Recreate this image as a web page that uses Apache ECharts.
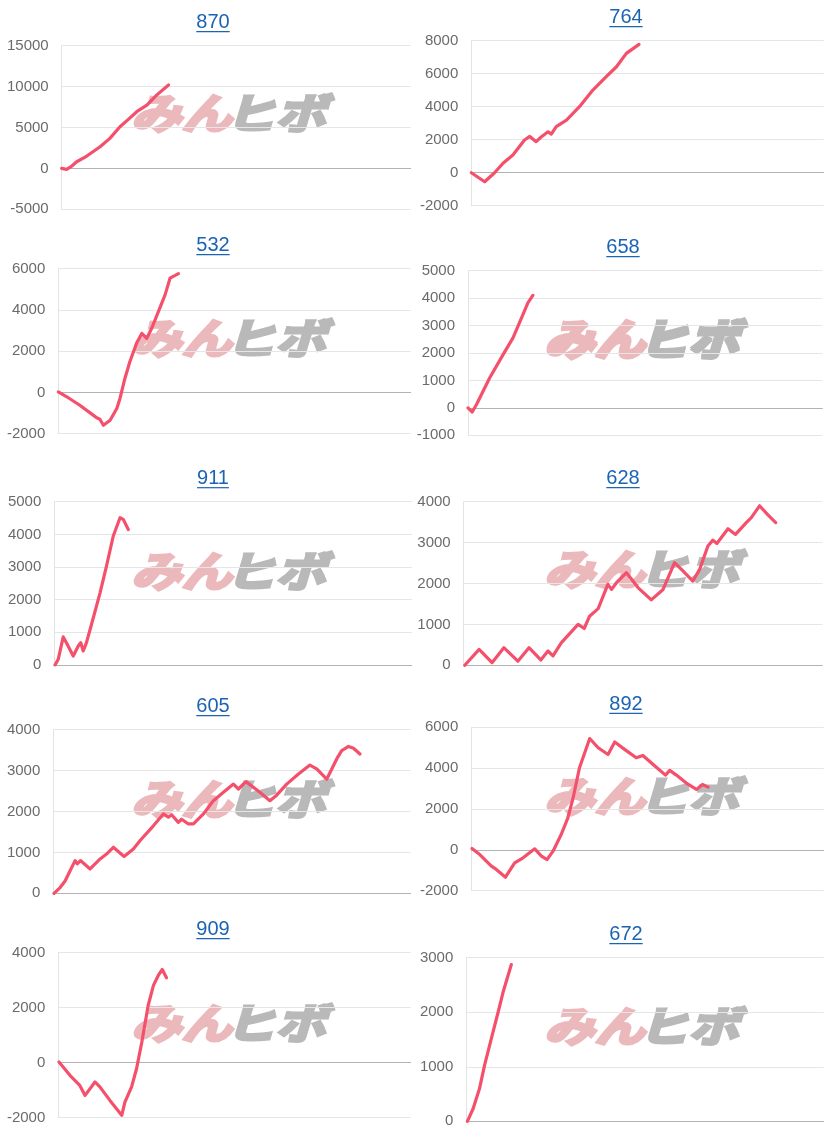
<!DOCTYPE html>
<html>
<head>
<meta charset="utf-8">
<script src="https://cdn.jsdelivr.net/npm/echarts@6/dist/echarts.min.js"></script>
<style>
html,body{margin:0;padding:0;background:#fff;}
#c{width:826px;height:1140px;}
</style>
</head>
<body>
<div id="c"></div>
<script>
// ---------- DATA ----------
const titles = ['870', '764', '532', '658', '911', '628', '605', '892', '909', '672'];
const yMins = [-5000, -2000, -2000, -1000, 0, 0, 0, -2000, -2000, 0];
const yMaxs = [15000, 8000, 6000, 5000, 5000, 4000, 4000, 6000, 4000, 3000];
const yIntervals = [5000, 2000, 2000, 1000, 1000, 1000, 1000, 2000, 2000, 1000];

// [x position on period axis (0-100), cumulative value]
const s870 = [[0,0],[1.4,-120],[2.9,285],[4.3,815],[7.2,1510],[11.0,2650],[13.8,3670],[16.7,5090],[19.1,5990],[21.5,6930],[24.4,7740],[27.2,8960],[30.6,10190]];
const s764 = [[0,0],[3.8,-550],[6.6,0],[9.0,570],[11.8,1070],[15.1,1980],[16.6,2200],[18.4,1880],[19.9,2180],[21.8,2480],[22.7,2340],[24.1,2790],[27.0,3190],[30.7,4000],[34.5,5010],[38.3,5820],[41.2,6420],[44.0,7230],[47.6,7780]];
const s532 = [[0,30],[2.4,-210],[6.1,-620],[9.9,-1100],[10.9,-1230],[11.8,-1300],[12.8,-1590],[14.7,-1350],[16.6,-780],[17.5,-290],[18.9,680],[20.3,1490],[22.2,2380],[23.7,2860],[25.1,2620],[26.5,3110],[28.4,3920],[30.3,4730],[31.7,5540],[34.1,5760]];
const s658 = [[0,0],[1.2,-150],[2.4,120],[6.1,1090],[9.9,1940],[12.7,2550],[15.5,3400],[16.9,3830],[18.3,4100]];
const s911 = [[0.2,0],[1.1,175],[2.5,860],[3.5,660],[5.3,275],[6.7,580],[7.4,683],[8.1,430],[9.0,683],[10.4,1240],[12.8,2210],[14.6,3030],[16.5,3950],[18.4,4510],[19.3,4460],[20.7,4150]];
const s628 = [[0.3,0],[4.3,390],[7.9,65],[11.2,430],[15.1,100],[18.2,430],[21.5,130],[23.5,350],[24.9,230],[27.2,550],[31.9,1000],[33.6,900],[35.1,1200],[37.5,1385],[40.2,1980],[41.2,1855],[42.6,2020],[45.4,2265],[48.6,1900],[52.3,1600],[55.6,1855],[58.8,2510],[61.2,2300],[63.9,2060],[65.8,2345],[68.1,2915],[69.5,3060],[70.6,2980],[73.7,3340],[75.8,3200],[78.8,3490],[80.2,3610],[82.5,3900],[84.9,3670],[87.0,3490]];
const s605 = [[0.2,0],[1.9,140],[3.3,300],[4.7,550],[6.1,800],[6.7,720],[7.6,800],[10.3,595],[13.1,840],[14.9,960],[16.8,1125],[19.8,900],[22.4,1085],[24.3,1290],[28.0,1650],[30.8,1940],[32.2,1860],[33.1,1920],[35.0,1735],[35.9,1810],[37.8,1695],[39.2,1695],[42.0,1940],[44.8,2265],[47.6,2470],[50.4,2670],[51.8,2550],[53.9,2730],[57.8,2470],[60.6,2265],[62.5,2400],[65.3,2670],[68.6,2915],[71.8,3135],[73.7,3040],[76.5,2790],[79.3,3285],[80.7,3490],[82.6,3590],[84.0,3545],[85.8,3405]];
const s892 = [[0.2,65],[2.4,-230],[5.7,-800],[7.1,-960],[9.7,-1340],[12.3,-640],[14.7,-390],[18.0,50],[19.9,-310],[21.5,-475],[23.2,-65],[25.5,750],[27.4,1570],[28.9,2550],[30.7,4020],[33.6,5450],[36.0,5000],[38.8,4670],[40.7,5280],[43.5,4920],[46.8,4510],[48.7,4620],[51.6,4180],[55.1,3660],[56.3,3890],[58.2,3660],[61.0,3270],[63.9,2960],[65.6,3200],[67.2,3070]];
const s909 = [[0.2,25],[3.3,-460],[6.1,-825],[7.6,-1190],[10.4,-700],[11.8,-880],[14.7,-1380],[18.0,-1915],[18.9,-1430],[20.8,-880],[22.2,-220],[23.7,750],[25.5,2080],[27.0,2810],[28.4,3180],[29.5,3390],[30.7,3090]];
const s672 = [[0.3,0],[1.9,230],[3.7,600],[5.1,1025],[7.0,1515],[8.9,2000],[10.3,2370],[12.6,2875]];
const seriesData = [s870, s764, s532, s658, s911, s628, s605, s892, s909, s672];

// ---------- LAYOUT ----------
const gridLeft   = [61.7, 471.3, 58.3, 468, 54.3, 463.7, 53.3, 471.3, 58.3, 466.3];
const gridTop    = [45.7, 40.7, 268.7, 270.7, 501.7, 501.7, 729.7, 727.3, 952.7, 957.7];
const gridRight  = [410.7, 823.7, 410.7, 822.3, 411.7, 822.3, 410.7, 823.7, 410.7, 823.7];
const gridBottom = [209.3, 205.7, 433.7, 435.3, 665, 665.3, 893.3, 890.7, 1117.7, 1121.3];
const titleX     = [213, 626, 213, 623, 213, 623, 213, 626, 213, 626];
const wmTop      = [98, 323, 323, 325, 556, 554, 784, 781, 1008, 1011];

const FONT = '"Liberation Sans", Arial, sans-serif';
const LINE_COLOR = '#f4506c';
const TITLE_COLOR = '#1b63b3';
const WM_FONT = '"Noto Sans CJK JP", sans-serif';

const meas = document.createElement('canvas').getContext('2d');
meas.font = '20px "Liberation Sans", Arial, sans-serif';

const grids = [], xAxes = [], yAxes = [], series = [], graphics = [];
for (let i = 0; i < titles.length; i++) {
  grids.push({
    left: gridLeft[i], top: gridTop[i],
    width: gridRight[i] - gridLeft[i], height: gridBottom[i] - gridTop[i],
    containLabel: false
  });
  xAxes.push({
    type: 'value', gridIndex: i, min: 0, max: 100,
    axisLine: { show: true, onZero: true, lineStyle: { color: '#b3b3b3', width: 1 } },
    axisTick: { show: false }, axisLabel: { show: false }, splitLine: { show: false }
  });
  yAxes.push({
    type: 'value', gridIndex: i, min: yMins[i], max: yMaxs[i], interval: yIntervals[i],
    axisLine: { show: true, lineStyle: { color: '#e3e3e3', width: 1 } },
    axisTick: { show: false },
    axisLabel: { color: '#6b6b6b', fontSize: 15, fontFamily: FONT, margin: 13,
                 formatter: function (v) { return String(v); } },
    splitLine: { show: true, lineStyle: { color: '#e6e6e6', width: 1 } }
  });
  series.push({
    type: 'line', xAxisIndex: i, yAxisIndex: i, data: seriesData[i],
    showSymbol: false, symbol: 'none', smooth: false, z: 3,
    lineStyle: { color: LINE_COLOR, width: 3.2, join: 'round', cap: 'round' },
    animation: false
  });
  // title + underline
  const ty = gridTop[i] - 23;
  const tw = meas.measureText(titles[i]).width;
  graphics.push({
    type: 'text', x: titleX[i], y: ty, z: 5,
    style: { text: titles[i], fill: TITLE_COLOR, fontSize: 20, fontFamily: FONT,
             textAlign: 'center', textVerticalAlign: 'middle' }
  });
  graphics.push({
    type: 'line', z: 5,
    shape: { x1: titleX[i] - tw / 2, y1: gridTop[i] - 14, x2: titleX[i] + tw / 2, y2: gridTop[i] - 14 },
    style: { stroke: TITLE_COLOR, lineWidth: 1.2 }
  });
  // watermark
  const wx = (i % 2 === 0) ? 131 : 544;
  graphics.push({
    type: 'group', x: wx, y: wmTop[i] - 6, z: 1, silent: true,
    children: [
      { type: 'text', x: 0, y: 0, scaleX: 1.2,
        style: { text: 'みん', fill: '#ebb9bc', stroke: '#ebb9bc', lineWidth: 3,
                 fontSize: 42, fontWeight: 'bold', fontStyle: 'italic',
                 fontFamily: WM_FONT, textVerticalAlign: 'top' } },
      { type: 'text', x: 94, y: 0, scaleX: 1.2,
        style: { text: 'ヒボ', fill: '#b9b9b9', stroke: '#b9b9b9', lineWidth: 3,
                 fontSize: 42, fontWeight: 'bold', fontStyle: 'italic',
                 fontFamily: WM_FONT, textVerticalAlign: 'top' } }
    ]
  });
}

const chart = echarts.init(document.getElementById('c'), null, { renderer: 'canvas' });
chart.setOption({
  animation: false,
  backgroundColor: '#ffffff',
  grid: grids, xAxis: xAxes, yAxis: yAxes, series: series,
  graphic: graphics
});
</script>
</body>
</html>
